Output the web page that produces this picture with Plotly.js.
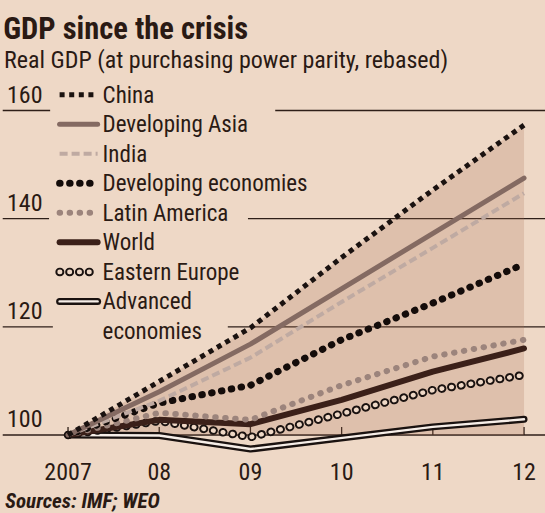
<!DOCTYPE html>
<html>
<head>
<meta charset="utf-8">
<script src="https://cdn.plot.ly/plotly-3.0.1.min.js"></script>
<style>
  html, body { margin: 0; padding: 0; background: #eed8c6; }
  #chart { width: 545px; height: 513px; }
</style>
</head>
<body>
<div id="chart"></div>
<script>
// ---- data ----
const years     = [2007, 2008, 2009, 2010, 2011, 2012];
const yearTicks = ['2007', '08', '09', '10', '11', '12'];
const valueTicks = [100, 120, 140, 160];

const china    = [100, 109.9, 119.8, 132.8, 145.3, 157.3];
const devAsia  = [100, 108.0, 116.8, 127.0, 137.2, 147.5];
const india    = [100, 106.3, 114.3, 124.6, 134.6, 144.7];
const devEcon  = [100, 105.9, 109.2, 117.6, 124.4, 131.6];
const latAm    = [100, 104.1, 102.8, 109.2, 114.5, 117.6];
const world    = [100, 102.8, 102.0, 106.5, 111.7, 116.0];
const eastEu   = [100, 102.6, 99.6, 104.0, 108.3, 111.1];
const advanced = [100, 99.9, 97.4, 99.6, 101.5, 102.9];
const baseLevel = 100;

// ---- styles ----
const FONT = "'Liberation Sans Narrow', 'Arial Narrow', 'Roboto Condensed', 'DejaVu Sans Condensed', sans-serif";
const INK = '#2a1a14';
const BG = '#eed8c6';
const STYLE = {
  'China':               {color: '#1a1210', width: 5,   dash: '5px,4.6px',   cap: 'butt'},
  'Developing Asia':     {color: '#846a62', width: 5,   dash: '',            cap: 'round'},
  'India':               {color: '#bfaaa2', width: 4,   dash: '8px,4px',     cap: 'butt'},
  'Developing economies':{color: '#140c0a', width: 7,   dash: '0.5px,9.5px', cap: 'round'},
  'Latin America':       {color: '#9c847c', width: 6,   dash: '0.5px,9.5px', cap: 'round'},
  'World':               {color: '#3b2019', width: 6,   dash: '',            cap: 'round'},
  'Eastern Europe':      {color: '#1a1210', width: 8.5, dash: '0.5px,9.3px', cap: 'round', inner: {color: BG, width: 4.6}},
  'Advanced economies':  {color: '#1a1210', width: 7,   dash: '',            cap: 'round', inner: {color: '#f6eee8', width: 2.4}}
};

const series = [
  ['Advanced economies', advanced, 'Advanced<br>economies'],
  ['Eastern Europe', eastEu, 'Eastern Europe'],
  ['World', world, 'World'],
  ['Latin America', latAm, 'Latin America'],
  ['Developing economies', devEcon, 'Developing economies'],
  ['India', india, 'India'],
  ['Developing Asia', devAsia, 'Developing Asia'],
  ['China', china, 'China']
];

const traces = [
  {x: years, y: years.map(() => baseLevel), mode: 'lines', line: {width: 0}, showlegend: false, hoverinfo: 'skip'},
  {x: years, y: china, mode: 'lines', line: {width: 0}, fill: 'tonexty',
   fillcolor: 'rgba(170,110,80,0.22)', showlegend: false, hoverinfo: 'skip'}
];
series.forEach(([name, vals, label]) => {
  const st = STYLE[name];
  traces.push({
    x: years, y: vals, name: label, meta: name, mode: 'lines',
    legendgroup: name,
    line: {color: st.color, width: st.width, dash: st.dash || 'solid'}
  });
});

// gridline pieces (broken by the legend, as in the original)
const gridPieces = {100: [[0.005, 1]], 120: [[0.005, 0.097], [0.418, 1]],
                    140: [[0.005, 0.09], [0.455, 1]], 160: [[0.005, 0.092], [0.505, 1]]};
const shapes = [];
valueTicks.forEach(v => {
  gridPieces[v].forEach(([a, b]) => shapes.push({
    type: 'line', xref: 'paper', yref: 'y', x0: a, x1: b, y0: v, y1: v,
    line: {color: '#2e1f18', width: 1.3}, layer: 'below'
  }));
});
years.forEach(yr => shapes.push({
  type: 'line', xref: 'x', yref: 'y', ysizemode: 'pixel', yanchor: baseLevel,
  x0: yr, x1: yr, y0: 0, y1: 8, line: {color: '#2e1f18', width: 1.3}, layer: 'below'
}));

const layout = {
  width: 545, height: 513,
  paper_bgcolor: BG, plot_bgcolor: 'rgba(0,0,0,0)',
  margin: {l: 0, r: 0, t: 80, b: 58, pad: 0},
  font: {family: FONT, color: INK, size: 21},
  title: {
    text: '<b>GDP since the crisis</b>',
    font: {family: FONT, size: 30.5, color: INK},
    x: 0.006, xanchor: 'left', xref: 'paper',
    y: 0.945, yanchor: 'middle', yref: 'container'
  },
  xaxis: {
    range: [2006.254, 2012.230], tickvals: years, ticktext: yearTicks,
    showgrid: false, zeroline: false, showline: false, ticks: '',
    ticklabelstandoff: 0, tickfont: {family: FONT, size: 24, color: INK}, fixedrange: true
  },
  yaxis: {
    range: [96.30, 165.64], tickvals: valueTicks, ticktext: valueTicks.map(String),
    showgrid: false, zeroline: false, showline: false, ticks: '',
    ticklabelposition: 'inside', ticklabelstandoff: 4, ticklabelshift: -16,
    tickfont: {family: FONT, size: 24, color: INK}, fixedrange: true
  },
  legend: {
    x: 0.1002, xanchor: 'left', y: 1.0133, yanchor: 'top',
    bgcolor: 'rgba(0,0,0,0)', borderwidth: 0, maxheight: 1000,
    traceorder: 'reversed', itemwidth: 38, valign: 'top', tracegroupgap: 0,
    font: {family: FONT, size: 20.4, color: INK}
  },
  annotations: [
    {
      text: 'Real GDP (at purchasing power parity, rebased)', xref: 'paper', yref: 'paper',
      x: 0.004, xanchor: 'left', y: 1.0533, yanchor: 'middle', showarrow: false,
      font: {family: FONT, size: 24, color: INK}
    },
    {
      text: '<b><i>Sources: IMF; WEO</i></b>', xref: 'paper', yref: 'paper',
      x: 0.006, xanchor: 'left', y: -0.122, yanchor: 'middle', showarrow: false,
      font: {family: FONT, size: 21, color: INK}
    }
  ],
  shapes: shapes,
  showlegend: true
};

function decorate(gd) {
  gd.querySelectorAll('.deco-clone').forEach(n => n.remove());
  const apply = (path, st) => {
    path.style.stroke = st.color;
    path.style.strokeWidth = st.width + 'px';
    path.style.strokeLinecap = st.cap;
    path.style.strokeLinejoin = 'round';
    path.style.strokeDasharray = st.dash || 'none';
    if (st.inner) {
      const c = path.cloneNode(false);
      c.classList.remove('js-line');
      c.classList.add('deco-clone');
      c.style.stroke = st.inner.color;
      c.style.strokeWidth = st.inner.width + 'px';
      path.parentNode.insertBefore(c, path.nextSibling);
    }
  };
  const traceOf = d => {
    if (!d) return null;
    if (d.trace) return d.trace;
    if (d[0] && d[0].trace) return d[0].trace;
    if (d[0] && d[0][0] && d[0][0].trace) return d[0][0].trace;
    return null;
  };
  gd.querySelectorAll('.scatterlayer .trace').forEach(g => {
    const tr = traceOf(g.__data__);
    if (!tr || !STYLE[tr.meta]) return;
    const p = g.querySelector('path.js-line');
    if (p) apply(p, STYLE[tr.meta]);
  });
  // let the (slightly larger) legend type show in full
  gd.querySelectorAll('.legend [clip-path]').forEach(n => n.removeAttribute('clip-path'));
  gd.querySelectorAll('.legend .traces').forEach(g => {
    const tr = traceOf(g.__data__);
    if (!tr || !STYLE[tr.meta]) return;
    const p = g.querySelector('.legendlines path');
    if (p) apply(p, STYLE[tr.meta]);
    g.querySelectorAll('.legendtext').forEach(t => { t.style.fontSize = '23px'; });
  });
}

const gd = document.getElementById('chart');
Plotly.newPlot(gd, traces, layout, {staticPlot: true, displayModeBar: false}).then(() => decorate(gd));
</script>
</body>
</html>
